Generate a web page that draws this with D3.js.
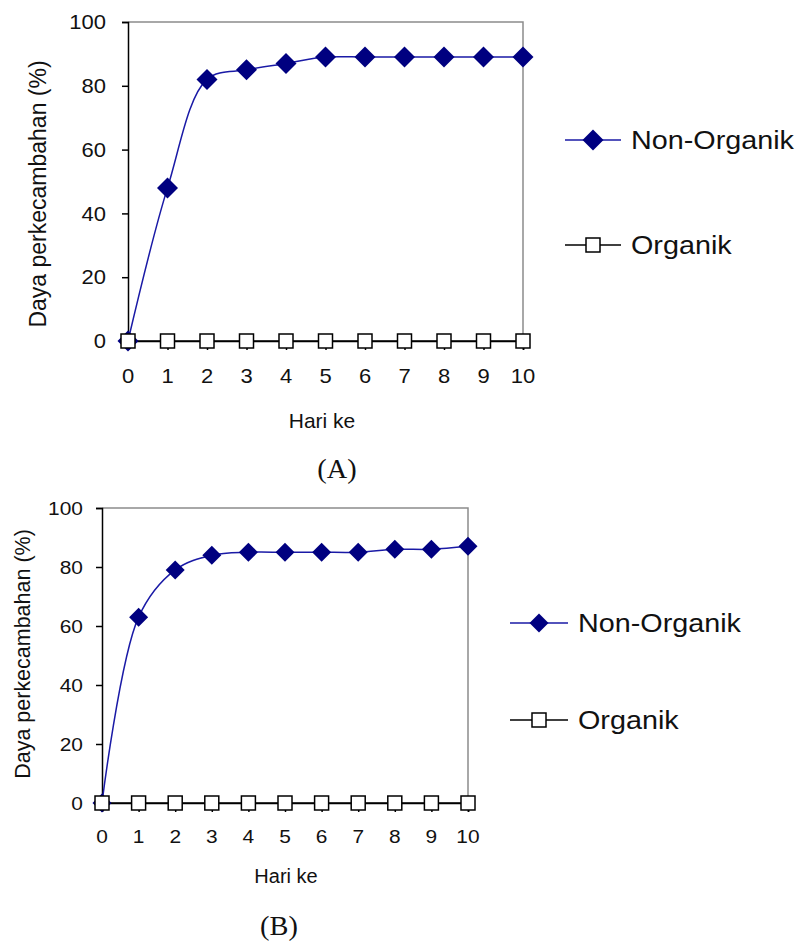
<!DOCTYPE html>
<html>
<head>
<meta charset="utf-8">
<script src="https://cdn.jsdelivr.net/npm/d3@7"></script>
<style>
  body { margin: 0; background: #fff; }
  svg { display: block; }
</style>
</head>
<body>
<div id="chart"></div>
<script>
// data
const hari = [0, 1, 2, 3, 4, 5, 6, 7, 8, 9, 10];
const nonOrganikA = [0, 48, 82, 85, 87, 89, 89, 89, 89, 89, 89];
const organikA    = [0, 0, 0, 0, 0, 0, 0, 0, 0, 0, 0];
const nonOrganikB = [0, 63, 79, 84, 85, 85, 85, 85, 86, 86, 87];
const organikB    = [0, 0, 0, 0, 0, 0, 0, 0, 0, 0, 0];
const yTicks = [0, 20, 40, 60, 80, 100];
const seriesNames = ["Non-Organik", "Organik"];
const judulY = "Daya perkecambahan (%)";
const judulX = "Hari ke";
const labelPanel = ["(A)", "(B)"];

const W = 797, H = 941;
const sans = "'Liberation Sans', Arial, sans-serif";
const serif = "'Liberation Serif', 'Times New Roman', serif";
const biru = "#000080";
const garisBiru = "#1a1aa6";

const svg = d3.select("#chart").append("svg")
  .attr("width", W).attr("height", H);

// image text looks a bit wider than Arial, stretch it horizontally
function teks(g, x, y, str, size, anchor, sx, family) {
  return g.append("text")
    .attr("transform", `translate(${x},${y}) scale(${sx},1)`)
    .attr("text-anchor", anchor)
    .style("font-family", family || sans)
    .style("font-size", size + "px")
    .attr("fill", "#111")
    .text(str);
}

function panel(cfg, nonOrg, org, label) {
  const g = svg.append("g");

  const x = d3.scaleLinear().domain([0, 10]).range([cfg.left, cfg.right]);
  const y = d3.scaleLinear().domain([0, 100]).range([cfg.bottom, cfg.top]);

  // frame: top and right gray
  g.append("path")
    .attr("d", `M${cfg.left},${cfg.top}H${cfg.right}V${cfg.bottom}`)
    .attr("fill", "none").attr("stroke", "#8c8c8c").attr("stroke-width", 1.5);

  // y axis
  const yAxis = d3.axisLeft(y).tickValues(yTicks).tickSize(6).tickFormat(d3.format("d"));
  const ga = g.append("g").attr("transform", `translate(${cfg.left},0)`).call(yAxis);
  ga.select(".domain").attr("stroke", "#000").attr("stroke-width", 1.5);
  ga.selectAll(".tick line").attr("stroke", "#000").attr("stroke-width", 1.5);
  ga.selectAll(".tick text").remove();
  yTicks.forEach(t => {
    teks(g, cfg.left - cfg.yLabGap, y(t) + cfg.tickFont * 0.36, t, cfg.tickFont, "end", cfg.sxTick);
  });

  // x axis
  const xAxis = d3.axisBottom(x).tickValues(hari).tickSize(9);
  const gx = g.append("g").attr("transform", `translate(0,${cfg.bottom})`).call(xAxis);
  gx.select(".domain").attr("stroke", "#000").attr("stroke-width", 1.5);
  gx.selectAll(".tick line").attr("stroke", "#000").attr("stroke-width", 1.5);
  gx.selectAll(".tick text").remove();
  hari.forEach(h => {
    teks(g, x(h), cfg.xLabY, h, cfg.tickFont, "middle", cfg.sxTick);
  });

  // axis titles
  g.append("text")
    .attr("transform", `translate(${cfg.titleX},${cfg.titleCY}) rotate(-90) scale(1,1.05)`)
    .attr("text-anchor", "middle")
    .attr("dy", "0.35em")
    .style("font-family", sans).style("font-size", cfg.titleFont + "px")
    .attr("fill", "#111")
    .text(judulY);
  teks(g, cfg.xTitleX, cfg.xTitleY, judulX, cfg.xTitleFont, "middle", 1.0);
  teks(g, cfg.labX, cfg.labY, label, cfg.labFont, "middle", 1.05, serif);

  // lines
  const line = d3.line()
    .x((d, i) => x(hari[i]))
    .y(d => y(d))
    .curve(d3.curveCatmullRom.alpha(0.5));

  g.append("path").datum(org).attr("d", line)
    .attr("fill", "none").attr("stroke", "#000").attr("stroke-width", 1.5);
  g.append("path").datum(nonOrg).attr("d", line)
    .attr("fill", "none").attr("stroke", garisBiru).attr("stroke-width", 1.5);

  const diamond = d3.symbol().type(d3.symbolSquare).size(cfg.diamond * cfg.diamond / 2);
  const kotak = cfg.square;

  g.selectAll(".nonorg").data(nonOrg).enter().append("path")
    .attr("d", diamond)
    .attr("transform", (d, i) => `translate(${x(hari[i])},${y(d)}) rotate(45)`)
    .attr("fill", biru);

  g.selectAll(".org").data(org).enter().append("rect")
    .attr("x", (d, i) => x(hari[i]) - kotak / 2)
    .attr("y", d => y(d) - kotak / 2)
    .attr("width", kotak).attr("height", kotak)
    .attr("fill", "#fff").attr("stroke", "#000").attr("stroke-width", 1.5);

  // legend
  seriesNames.forEach((nama, i) => {
    const ly = cfg.legendY[i];
    const cx = cfg.legendX + cfg.legendLen / 2;
    g.append("line")
      .attr("x1", cfg.legendX).attr("x2", cfg.legendX + cfg.legendLen)
      .attr("y1", ly).attr("y2", ly)
      .attr("stroke", i === 0 ? garisBiru : "#000").attr("stroke-width", 1.5);
    if (i === 0) {
      g.append("path").attr("d", diamond)
        .attr("transform", `translate(${cx},${ly}) rotate(45)`)
        .attr("fill", biru);
    } else {
      g.append("rect")
        .attr("x", cx - kotak / 2).attr("y", ly - kotak / 2)
        .attr("width", kotak).attr("height", kotak)
        .attr("fill", "#fff").attr("stroke", "#000").attr("stroke-width", 1.5);
    }
    teks(g, cfg.legendX + cfg.legendLen + 10, ly + cfg.legendFont * 0.36, nama, cfg.legendFont, "start", 1.15);
  });
}

const cfgA = {
  left: 128, right: 523, top: 22, bottom: 341,
  tickFont: 20, sxTick: 1.1, yLabGap: 22, xLabY: 383,
  titleX: 38, titleCY: 194, titleFont: 23,
  xTitleX: 322, xTitleY: 428, xTitleFont: 21,
  labX: 337, labY: 478, labFont: 27,
  legendX: 565, legendLen: 56, legendY: [140, 245], legendFont: 25,
  diamond: 21, square: 14
};
const cfgB = {
  left: 102, right: 468, top: 508, bottom: 803,
  tickFont: 19, sxTick: 1.1, yLabGap: 19, xLabY: 843,
  titleX: 22, titleCY: 654, titleFont: 21.5,
  xTitleX: 286, xTitleY: 883, xTitleFont: 20,
  labX: 279, labY: 935, labFont: 27,
  legendX: 510, legendLen: 58, legendY: [623, 720], legendFont: 25,
  diamond: 19, square: 14
};

panel(cfgA, nonOrganikA, organikA, labelPanel[0]);
panel(cfgB, nonOrganikB, organikB, labelPanel[1]);
</script>
</body>
</html>
